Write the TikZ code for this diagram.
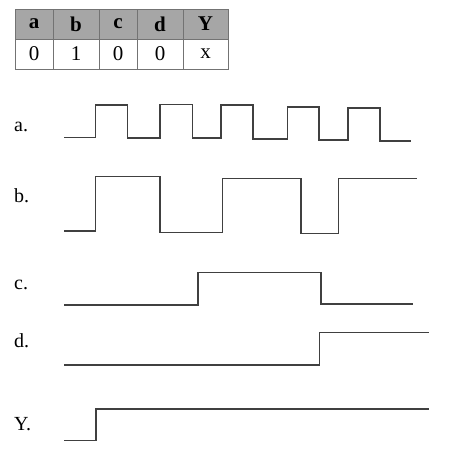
\documentclass[tikz,border=0pt]{standalone}
\usepackage{fontspec}
\setmainfont{Liberation Serif}
\begin{document}
\begin{tikzpicture}[x=1pt,y=-1pt,
  wave/.style={line width=1.4pt,draw=black!75,line join=miter},
  lbl/.style={anchor=west,inner sep=0pt,font=\fontsize{20}{22}\selectfont},
  hdr/.style={font=\fontsize{21}{23}\selectfont\bfseries,inner sep=0pt},
  val/.style={font=\fontsize{21}{23}\selectfont,inner sep=0pt},
  grid/.style={draw=black!55,line width=1pt}]
\useasboundingbox (0,0) rectangle (474,455);
% table
\fill[black!35] (15,9) rectangle (228,39);
\draw[grid] (15,9) rectangle (228,69);
\draw[grid] (15,39) -- (228,39);
\foreach \x in {53,99,137,183} \draw[grid] (\x,9) -- (\x,69);
\node[hdr] (ha) at (34,24) {a};
\node[hdr] (hb) at (76,24) {b};
\node[hdr] (hc) at (118,24) {c};
\node[hdr] (hd) at (160,24) {d};
\node[hdr] (hy) at (205.5,24) {Y};
\node[val] (va) at (34,54) {0};
\node[val] (vb) at (76,54) {1};
\node[val] (vc) at (118,54) {0};
\node[val] (vd) at (160,54) {0};
\node[val] (vy) at (205.5,54) {x};
% labels
\node[lbl] (la) at (14,127) {a.};
\node[lbl] (lb) at (14,196) {b.};
\node[lbl] (lc) at (14,285) {c.};
\node[lbl] (ld) at (14,341) {d.};
\node[lbl] (lY) at (14,424) {Y.};
% a
\draw[wave] (64,137.5) -- (95.7,137.5) -- (95.7,105) -- (127.7,105) -- (127.7,138)
  -- (160,138) -- (160,104.7) -- (192.7,104.7) -- (192.7,138) -- (221,138)
  -- (221,105) -- (253,105) -- (253,139) -- (287.7,139) -- (287.7,107)
  -- (319,107) -- (319,140) -- (348,140) -- (348,108) -- (380,108)
  -- (380,141) -- (411,141);
% b
\draw[wave] (64,231) -- (95.7,231) -- (95.7,176.7) -- (160,176.7) -- (160,232.3)
  -- (222.7,232.3) -- (222.7,178.7) -- (301,178.7) -- (301,233.3) -- (338.7,233.3)
  -- (338.7,178.7) -- (417,178.7);
% c
\draw[wave] (64,305) -- (198,305) -- (198,272.7) -- (321,272.7) -- (321,304) -- (413,304);
% d
\draw[wave] (64,365) -- (319.3,365) -- (319.3,332.7) -- (429,332.7);
% Y
\draw[wave] (64,440.7) -- (96,440.7) -- (96,409) -- (429,409);
\end{tikzpicture}
\end{document}
